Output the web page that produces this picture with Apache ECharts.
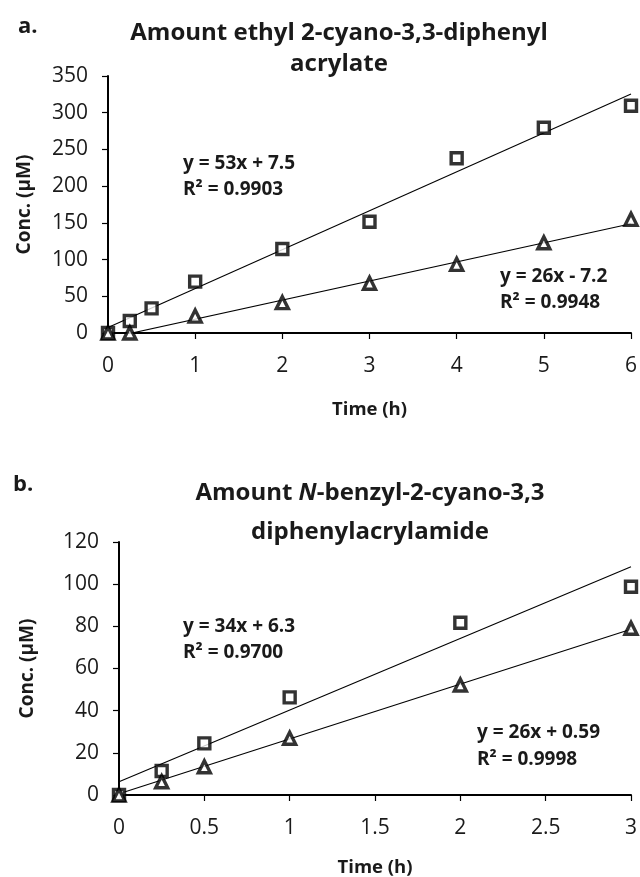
<!DOCTYPE html>
<html>
<head>
<meta charset="utf-8">
<style>
  html, body { margin: 0; padding: 0; background: #fff; }
  #chart { width: 640px; height: 877px; }
</style>
<script src="https://cdn.jsdelivr.net/npm/echarts@6/dist/echarts.min.js"></script>
</head>
<body>
<div id="chart"></div>
<script>
// panel a: ethyl 2-cyano-3,3-diphenyl acrylate
const timeSqA = [0, 0.25, 0.5, 1, 2, 3, 4, 5, 6]
const concSqA = [0, 16.3, 33.6, 70, 114.4, 151.6, 237.9, 279.6, 309.5]
const timeTriA = [0, 0.25, 1, 2, 3, 4, 5, 6]
const concTriA = [0, 0, 23, 41.3, 67.7, 93.5, 123, 154.8]
const slopeA = [53, 26]
const interceptA = [7.5, -7.2]
const xMaxA = 6

// panel b: N-benzyl-2-cyano-3,3 diphenylacrylamide
const timeB = [0, 0.25, 0.5, 1, 2, 3]
const concSqB = [0, 11.4, 24.5, 46.3, 81.7, 98.8]
const concTriB = [0, 6.3, 13.4, 26.9, 52.2, 79.1]
const slopeB = [34, 26]
const interceptB = [6.3, 0.59]
const xMaxB = 3

const FONT = '"Open Sans", sans-serif'
const INK = '#1a1a1a'
const chart = echarts.init(document.getElementById('chart'))

function pairs(xs, ys) {
  return xs.map((x, i) => [x, ys[i]])
}
// fitted trend line, drawn from 0 to the last time point
function trend(m, b, xMax) {
  return [[0, b], [xMax, m * xMax + b]]
}

function xAxis(gridIndex, max, interval, gap) {
  return {
    type: 'value', gridIndex, min: 0, max, interval,
    name: 'Time (h)', nameLocation: 'middle', nameGap: gap,
    nameTextStyle: { fontFamily: FONT, fontSize: 18.5, fontWeight: 'bold', color: INK },
    axisLine: { lineStyle: { color: '#000', width: 2 } },
    axisTick: { inside: false, length: 6, lineStyle: { color: '#000', width: 1.2 } },
    axisLabel: { margin: 23, fontFamily: FONT, fontSize: 21, color: INK },
    splitLine: { show: false }
  }
}
function yAxis(gridIndex, max, interval, gap) {
  return {
    type: 'value', gridIndex, min: 0, max, interval,
    name: 'Conc. (µM)', nameLocation: 'middle', nameGap: gap,
    nameTextStyle: { fontFamily: FONT, fontSize: 19, fontWeight: 'bold', color: INK },
    axisLine: { show: true, lineStyle: { color: '#000', width: 2 } },
    axisTick: { show: true, inside: false, length: 6, lineStyle: { color: '#000', width: 1.2 } },
    axisLabel: { margin: 20, fontFamily: FONT, fontSize: 21, color: INK },
    splitLine: { show: false }
  }
}
function points(idx, data, symbol, size) {
  return {
    type: 'scatter', xAxisIndex: idx, yAxisIndex: idx, data,
    symbol, symbolSize: size, z: 5,
    itemStyle: { color: '#fff', borderColor: '#000', borderWidth: 3.4 }
  }
}
function line(idx, data) {
  return {
    type: 'line', xAxisIndex: idx, yAxisIndex: idx, data,
    showSymbol: false, clip: true, z: 3, silent: true,
    lineStyle: { color: '#000', width: 1.1 }
  }
}
function label(x, y, text, size, align) {
  return {
    type: 'text', x, y,
    style: {
      text, fontFamily: FONT, fontSize: size, fontWeight: 'bold', fill: INK,
      textAlign: align || 'left', textVerticalAlign: 'middle'
    }
  }
}

chart.setOption({
  animation: false,
  grid: [
    { left: 108, right: 9, top: 76, bottom: 544, outerBoundsMode: 'none' },
    { left: 119, right: 9, top: 542, bottom: 82, outerBoundsMode: 'none' }
  ],
  xAxis: [xAxis(0, xMaxA, 1, 67), xAxis(1, xMaxB, 0.5, 63)],
  yAxis: [yAxis(0, 350, 50, 74), yAxis(1, 120, 20, 82)],
  series: [
    line(0, trend(slopeA[0], interceptA[0], xMaxA)),
    line(0, trend(slopeA[1], interceptA[1], xMaxA)),
    points(0, pairs(timeSqA, concSqA), 'rect', 11),
    points(0, pairs(timeTriA, concTriA), 'triangle', 12),
    line(1, trend(slopeB[0], interceptB[0], xMaxB)),
    line(1, trend(slopeB[1], interceptB[1], xMaxB)),
    points(1, pairs(timeB, concSqB), 'rect', 11),
    points(1, pairs(timeB, concTriB), 'triangle', 12)
  ],
  graphic: [
    label(18, 27, 'a.', 22),
    label(339, 33, 'Amount ethyl 2-cyano-3,3-diphenyl', 24, 'center'),
    label(339, 64, 'acrylate', 24, 'center'),
    label(183, 164, 'y = 53x + 7.5', 19),
    label(183, 190, 'R² = 0.9903', 19),
    label(500, 277, 'y = 26x - 7.2', 19),
    label(500, 303, 'R² = 0.9948', 19),

    label(13, 485, 'b.', 22),
    {
      type: 'text', x: 370, y: 493,
      style: {
        text: '{b|Amount }{i|N}{b|-benzyl-2-cyano-3,3}',
        textAlign: 'center', textVerticalAlign: 'middle',
        rich: {
          b: { fontFamily: FONT, fontSize: 24, fontWeight: 'bold', fill: INK },
          i: { fontFamily: FONT, fontSize: 24, fontWeight: 'bold', fontStyle: 'italic', fill: INK }
        }
      }
    },
    label(370, 532, 'diphenylacrylamide', 24, 'center'),
    label(183, 627, 'y = 34x + 6.3', 19),
    label(183, 653, 'R² = 0.9700', 19),
    label(477, 733, 'y = 26x + 0.59', 19),
    label(477, 760, 'R² = 0.9998', 19)
  ]
})
</script>
</body>
</html>
